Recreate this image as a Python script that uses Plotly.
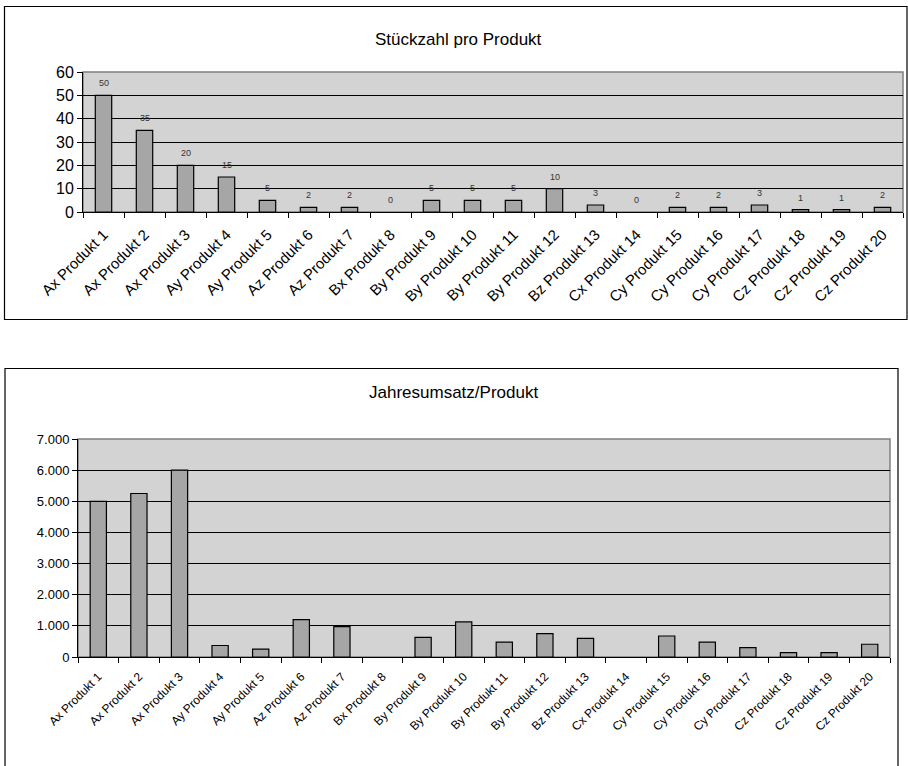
import plotly.graph_objects as go

W, H = 908, 766

products = ["Ax Produkt 1", "Ax Produkt 2", "Ax Produkt 3", "Ay Produkt 4", "Ay Produkt 5",
            "Az Produkt 6", "Az Produkt 7", "Bx Produkt 8", "By Produkt 9", "By Produkt 10",
            "By Produkt 11", "By Produkt 12", "Bz Produkt 13", "Cx Produkt 14", "Cy Produkt 15",
            "Cy Produkt 16", "Cy Produkt 17", "Cz Produkt 18", "Cz Produkt 19", "Cz Produkt 20"]
stueckzahl = [50, 35, 20, 15, 5, 2, 2, 0, 5, 5, 5, 10, 3, 0, 2, 2, 3, 1, 1, 2]
umsatz = [5000, 5250, 6000, 370, 250, 1200, 975, 0, 630, 1125,
          480, 750, 600, 0, 675, 480, 300, 140, 140, 410]
title_top = "Stückzahl pro Produkt"
title_bottom = "Jahresumsatz/Produkt"
yticks_top = [0, 10, 20, 30, 40, 50, 60]
yticks_bottom = [0, 1000, 2000, 3000, 4000, 5000, 6000, 7000]

FONT = "Liberation Sans, Arial, sans-serif"
BAR = "#a6a6a6"
BG = "#d3d3d3"

def px(x):
    return x / W

def py(y):
    return 1 - y / H

def outline_widths(values):
    return [0 if v == 0 else 1.2 for v in values]

fig = go.Figure()

fig.add_trace(go.Bar(x=products, y=stueckzahl, xaxis="x", yaxis="y",
                     marker=dict(color=BAR, line=dict(color="black", width=outline_widths(stueckzahl))),
                     width=0.4, hoverinfo="x+y"))
fig.add_trace(go.Bar(x=products, y=umsatz, xaxis="x2", yaxis="y2",
                     marker=dict(color=BAR, line=dict(color="black", width=outline_widths(umsatz))),
                     width=0.4, hoverinfo="x+y"))

annotations = []
for p, v in zip(products, stueckzahl):
    annotations.append(dict(x=p, y=v, xref="x", yref="y", text=str(v), showarrow=False,
                            yshift=12, font=dict(family=FONT, size=9, color="#333333")))

# titles
annotations.append(dict(x=px(458), y=py(28), xref="paper", yref="paper", text=title_top,
                        showarrow=False, font=dict(family=FONT, size=17, color="black")))
annotations.append(dict(x=px(453), y=py(392), xref="paper", yref="paper", text=title_bottom,
                        showarrow=False, font=dict(family=FONT, size=17, color="black")))

shapes = [
    # chart boxes
    dict(type="rect", xref="paper", yref="paper", x0=px(4.5), x1=px(907), y0=py(319.5), y1=py(6.5),
         line=dict(color="black", width=1.2)),
    dict(type="rect", xref="paper", yref="paper", x0=px(5), x1=px(898), y0=-0.01, y1=py(368.5),
         line=dict(color="black", width=1.2)),
    # plot area frames (grey top/right)
    dict(type="rect", xref="x domain", yref="y domain", x0=0, x1=1, y0=0, y1=1,
         line=dict(color="#808080", width=1.5), layer="below"),
    dict(type="rect", xref="x2 domain", yref="y2 domain", x0=0, x1=1, y0=0, y1=1,
         line=dict(color="#808080", width=1.5), layer="below"),
]

axis_common = dict(showline=True, linecolor="black", linewidth=1, ticks="outside",
                   tickcolor="black", ticklen=5, fixedrange=True, automargin=False)

fig.update_layout(
    width=W, height=H,
    autosize=False,
    margin=dict(l=0, r=0, t=0, b=0, pad=0, autoexpand=False),
    paper_bgcolor="white",
    plot_bgcolor=BG,
    showlegend=False,
    separators=",.",
    bargap=0.6,
    annotations=annotations,
    shapes=shapes,
    xaxis=dict(domain=[px(83), px(903)], anchor="y", type="category",
               tickson="boundaries", tickangle=-45, showgrid=False, ticklabelstandoff=7,
               tickfont=dict(family=FONT, size=15, color="black"), **axis_common),
    yaxis=dict(domain=[py(212), py(72)], anchor="x", range=[0, 60], tickvals=yticks_top,
               showgrid=True, gridcolor="black", gridwidth=1, zeroline=False,
               tickfont=dict(family=FONT, size=16, color="black"), **axis_common),
    xaxis2=dict(domain=[px(78), px(890)], anchor="y2", type="category",
                tickson="boundaries", tickangle=-45, showgrid=False, ticklabelstandoff=7,
                tickfont=dict(family=FONT, size=12, color="black"), **axis_common),
    yaxis2=dict(domain=[py(657), py(439)], anchor="x2", range=[0, 7000], tickvals=yticks_bottom,
                tickformat=",d", showgrid=True, gridcolor="black", gridwidth=1, zeroline=False,
                tickfont=dict(family=FONT, size=13, color="black"), **axis_common),
)

fig.write_html("out.html", config={"responsive": False, "displayModeBar": False},
               post_script="document.body.style.margin='0';document.body.style.overflow='hidden';")
